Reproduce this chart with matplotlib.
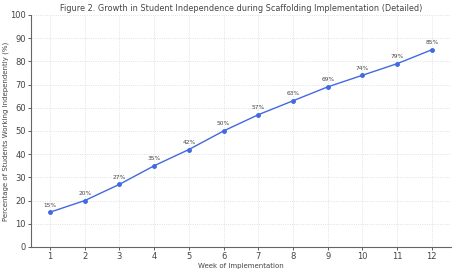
import matplotlib
matplotlib.use("AGG")
import matplotlib.pyplot as plt

weeks = [1, 2, 3, 4, 5, 6, 7, 8, 9, 10, 11, 12]
pct = [15, 20, 27, 35, 42, 50, 57, 63, 69, 74, 79, 85]

fig, ax = plt.subplots(figsize=(4.55, 2.72), dpi=100)
ax.plot(weeks, pct, '-o', color='#4169e1', linewidth=1.0, markersize=2.5)
for w, p in zip(weeks, pct):
    ax.annotate(f"{p}%", (w, p), textcoords="offset points", xytext=(0, 4),
                ha='center', fontsize=4.2, color='#444444')

ax.set_ylim(0, 100)
ax.set_yticks(range(0, 101, 10))
ax.set_xticks(weeks)
ax.set_title("Figure 2. Growth in Student Independence during Scaffolding Implementation (Detailed)",
             fontsize=5.9, color='#444444', pad=3)
ax.set_xlabel("Week of Implementation", fontsize=5, color='#444444', labelpad=1.5)
ax.set_ylabel("Percentage of Students Working Independently (%)", fontsize=5, color='#444444', labelpad=1)
ax.tick_params(labelsize=6, colors='#444444', length=2, width=0.6, pad=1.5)
ax.grid(True, linestyle=':', color='#d8d8d8', linewidth=0.6)
for s in ['top', 'right']:
    ax.spines[s].set_visible(False)
for s in ['left', 'bottom']:
    ax.spines[s].set_color('#666666')
    ax.spines[s].set_linewidth(0.8)

fig.subplots_adjust(left=0.068, right=0.991, top=0.945, bottom=0.092)
plt.savefig("out.png", dpi=100)
